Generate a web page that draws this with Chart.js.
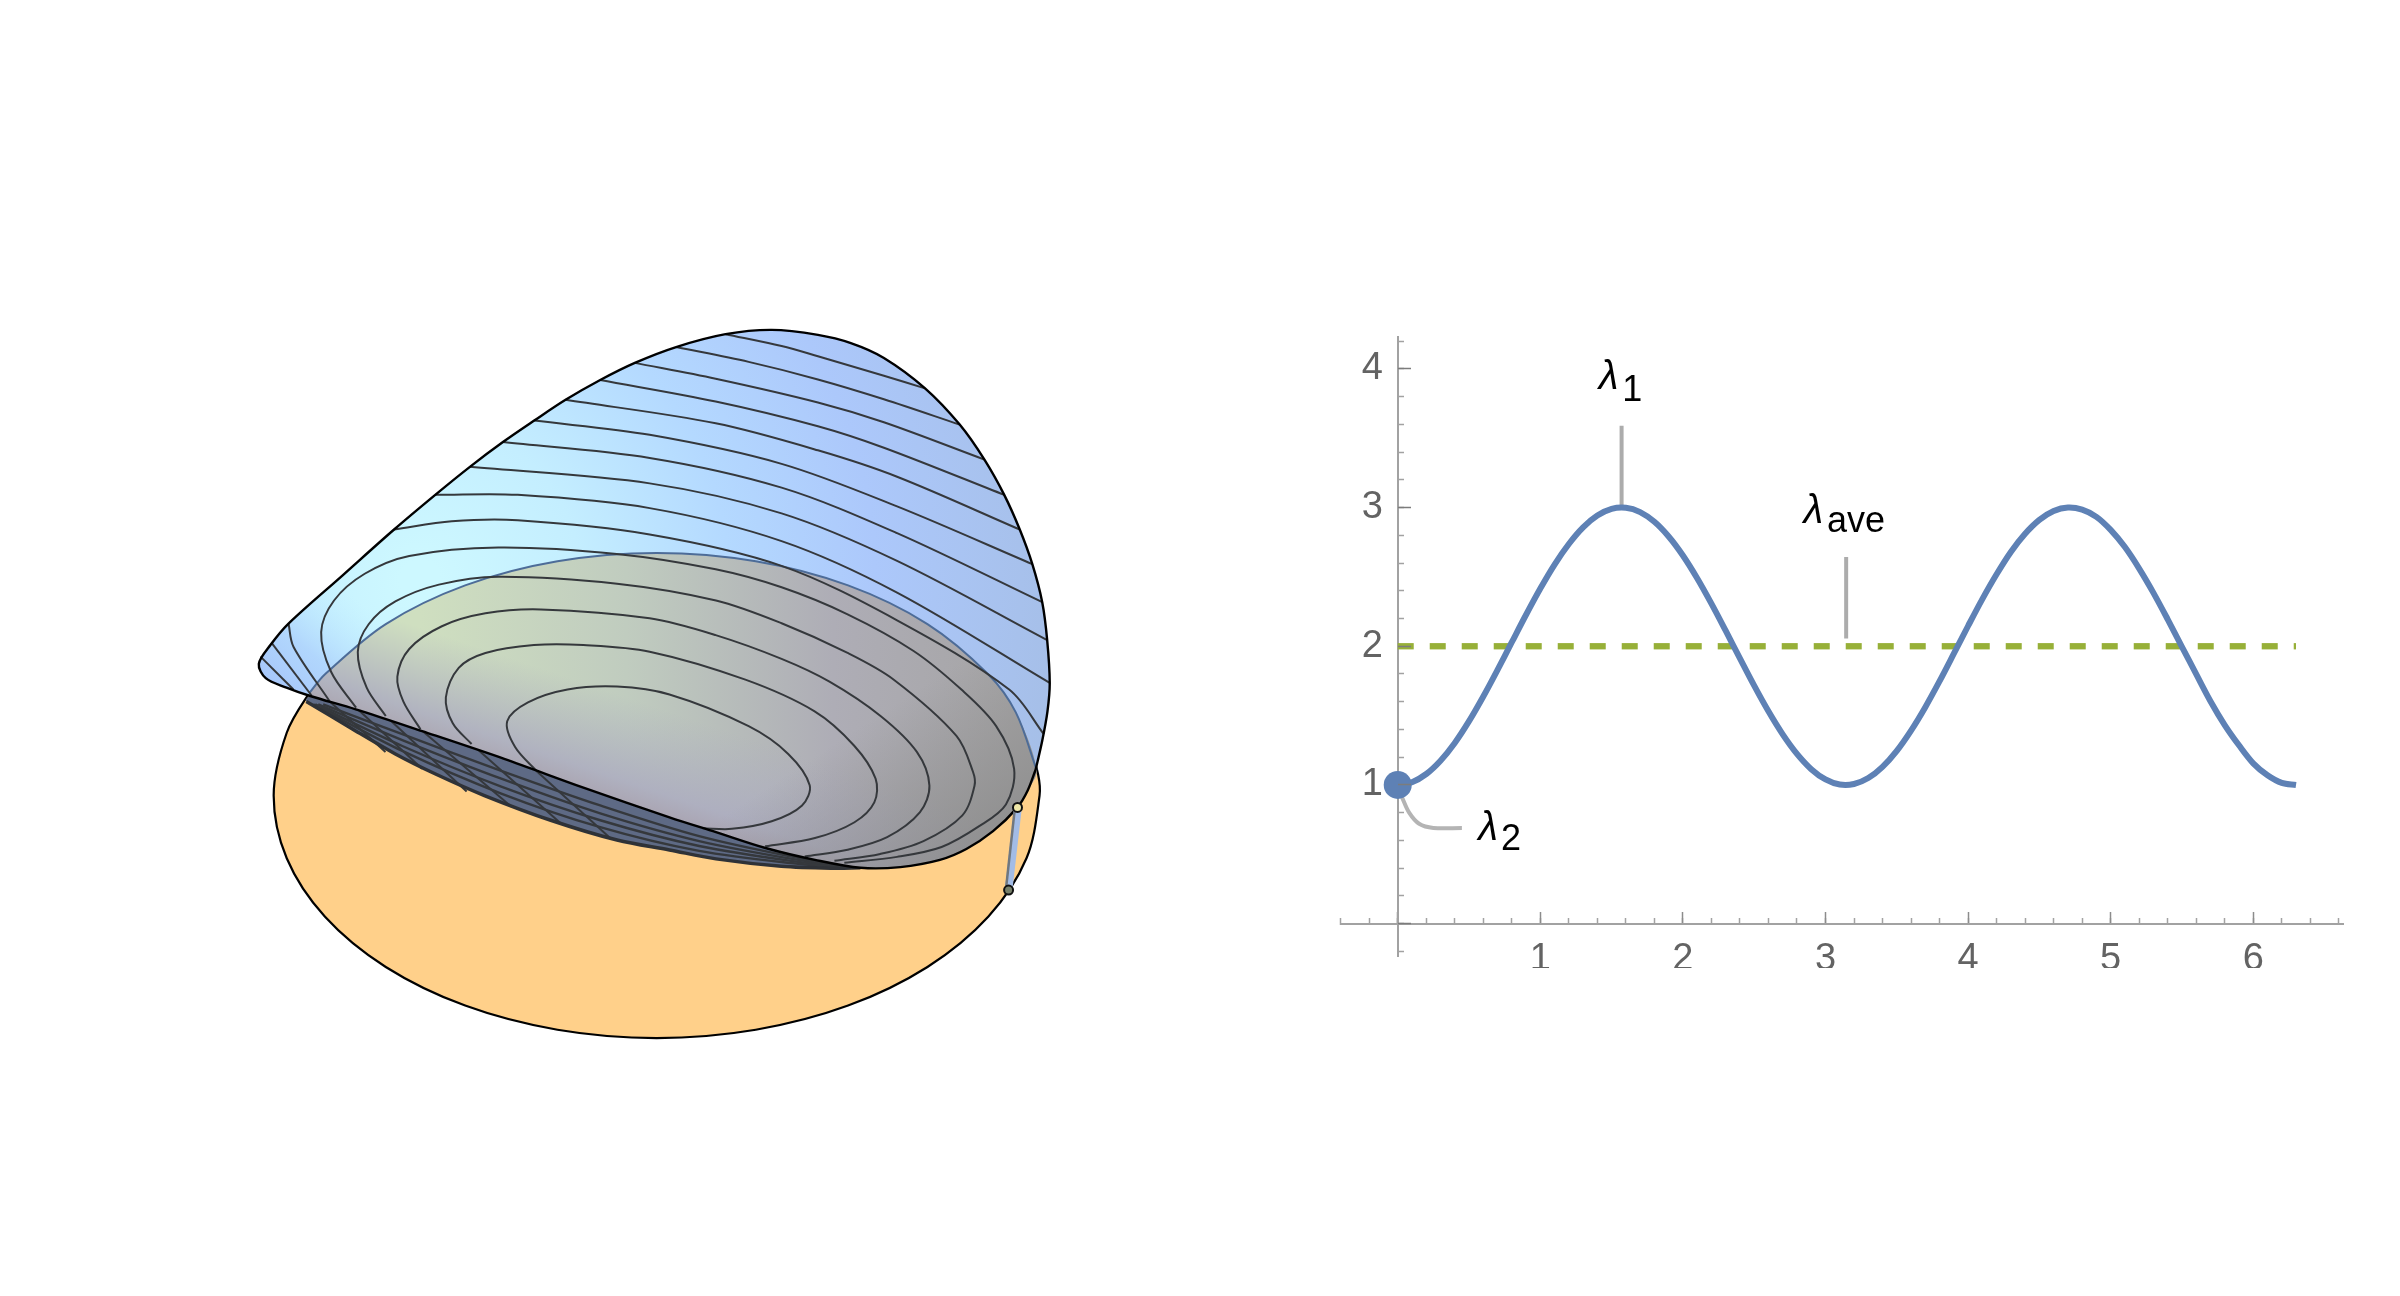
<!DOCTYPE html>
<html>
<head>
<meta charset="utf-8">
<title>Surface and eigenvalues</title>
<script src="https://cdn.jsdelivr.net/npm/chart.js@4/dist/chart.umd.min.js"></script>
<style>
    html, body { margin: 0; background: #fff; width: 2400px; height: 1296px; overflow: hidden; }
    #surfaceChart { position: absolute; left: 0; top: 0; }
    /* the tick numbers are cut off at the bottom in the original */
    #lambdaWrap { position: absolute; left: 1240px; top: 300px; width: 1160px; height: 668px; overflow: hidden; }
</style>
</head>
<body>
<canvas id="surfaceChart" width="1240" height="1296"></canvas>
<div id="lambdaWrap"><canvas id="lambdaChart" width="1160" height="760"></canvas></div>
<script>
// ---- right panel values ----
const curveX = [0, .1, .2, .3, .4, .5, .6, .7, .8, .9, 1, 1.1, 1.2, 1.3, 1.4, 1.5, 1.6, 1.7, 1.8, 1.9, 2, 2.1, 2.2, 2.3, 2.4, 2.5, 2.6, 2.7, 2.8, 2.9, 3, 3.1, 3.2, 3.3, 3.4, 3.5, 3.6, 3.7, 3.8, 3.9, 4, 4.1, 4.2, 4.3, 4.4, 4.5, 4.6, 4.7, 4.8, 4.9, 5, 5.1, 5.2, 5.3, 5.4, 5.5, 5.6, 5.7, 5.8, 5.9, 6, 6.1, 6.2, 6.3];
const curveY = [1, 1.02, 1.079, 1.175, 1.303, 1.46, 1.638, 1.83, 2.029, 2.227, 2.416, 2.589, 2.737, 2.857, 2.942, 2.99, 2.998, 2.967, 2.897, 2.791, 2.654, 2.49, 2.307, 2.112, 1.913, 1.716, 1.531, 1.365, 1.224, 1.114, 1.04, 1.003, 1.007, 1.05, 1.131, 1.246, 1.392, 1.561, 1.748, 1.946, 2.146, 2.34, 2.519, 2.68, 2.811, 2.911, 2.975, 3, 2.985, 2.933, 2.839, 2.715, 2.56, 2.385, 2.194, 1.996, 1.799, 1.604, 1.432, 1.286, 1.156, 1.07, 1.015, 1];
const averageX = [0, 6.3];
const averageY = [2, 2];
const dotX = [0];
const dotY = [1];
const leader1X = [1.57, 1.57];
const leader1Y = [3, 3.59];
const leaderAveX = [3.145, 3.145];
const leaderAveY = [2.055, 2.644];
const leader2X = [.03, .08, .15, .25, .45];
const leader2Y = [.91, .8, .72, .69, .69];
const labelNames = ['λ', 'λ', 'λ'];
const labelX = [1.41, 2.845, .565];
const labelY = [3.855, 2.885, .605];
const subNames = ['1', 'ave', '2'];
const subX = [1.575, 3.01, .725];
const subY = [3.768, 2.825, .533];

// ---- left panel outlines (no value axes there) ----
const discEdge = [[321.9, 674.5], [306, 693.5], [283.2, 733.6], [270, 797], [283.2, 860.4], [321.9, 919.5], [383.3, 970.2], [463.5, 1009.2], [556.8, 1033.6], [657, 1042], [757.2, 1033.6], [850.5, 1009.2], [930.7, 970.2], [992.1, 919.5], [1030.8, 860.4], [1044, 797], [1042.5, 775.6], [1030.8, 733.6]];
const lidEdge = [[306, 693.5], [321.9, 674.5], [383.3, 623.8], [463.5, 584.8], [556.8, 560.4], [657, 552], [757.2, 560.4], [850.5, 584.8], [930.7, 623.8], [992.1, 674.5], [1020, 713], [1041, 771]];
const surfaceTop = [[266.7, 645], [285, 623.3], [340, 574.3], [391.7, 528.3], [433.3, 493.3], [468.3, 465], [501.7, 440], [533.3, 418.3], [565, 397.3], [600, 377.3], [635, 360], [676.7, 344], [726.7, 331], [773.3, 326.7], [820, 331.7], [853.3, 340], [886.7, 355], [928.3, 385.7], [963.3, 422.3], [988.3, 457.7], [1008.3, 493.3], [1024, 528.3], [1036.7, 563.3], [1046.7, 601.7], [1051.7, 640], [1054.3, 683.3], [1052, 712], [1046.7, 741.7]];
const rightRim = [[1040, 771], [1032, 792], [1021.7, 809], [997, 833], [970, 851], [943.3, 862], [903.3, 869.3], [863, 870]];
const frontLine = [[817, 862], [767, 850], [717, 834], [670, 819], [583, 789], [503, 760], [420, 732], [353, 710], [307, 696.5]];
const tipCurve = [[283, 688], [262, 678.5], [255, 664]];
const underEdge = [[303, 702], [350, 730], [393, 755], [433, 775], [483, 797], [550, 822], [617, 842], [670, 852], [717, 861], [783, 868.5], [837, 870.5], [863, 870]];

// contour lines on the upper surface
const contourA = [[726.7, 331], [783.3, 343], [820, 353.3], [886.7, 373], [928.3, 385.7]];
const contourB = [[676.7, 344], [750, 359], [820, 376.7], [886.7, 396.7], [963.3, 422.3]];
const contourC = [[635, 360], [716.7, 376], [820, 400], [886.7, 420], [988.3, 457.7]];
const contourD = [[600, 377.3], [716.7, 399], [820, 424], [886.7, 445.7], [1008.3, 493.3]];
const contourE = [[565, 397.3], [716.7, 421], [820, 448.3], [900, 475], [1024, 528.3]];
const contourF = [[533.3, 418.3], [650, 432.7], [783.3, 462], [900, 505], [1036.7, 563.3]];
const contourG = [[501.7, 440], [650, 456], [783.3, 486], [900, 532], [1046.7, 601.7]];
const contourH = [[468.3, 465], [650, 481.7], [783.3, 512], [900, 560], [1051.7, 640]];
const contourI = [[433.3, 493.3], [516.7, 493.3], [650, 506.7], [783.3, 540], [900, 592], [1054.3, 683.3]];
const contourJ = [[391.7, 528.3], [450, 520], [516.7, 519], [650, 533.3], [783.3, 565], [900, 620], [1013.3, 690], [1048.3, 735]];
const contourK = [[353.3, 708.3], [328, 672], [318, 632], [331, 600], [362, 573], [407, 555], [497, 546.5], [616.7, 553], [716.7, 568.5], [783.3, 586.7], [850, 614], [916.7, 651], [965, 690], [1000, 726.7], [1018.3, 770], [1010, 806], [983, 828], [945, 849], [900, 859], [846.7, 865]];
const contourL = [[383.3, 716.7], [364, 688], [355, 652], [366, 624], [393, 601], [437, 584], [497, 576], [617, 583], [717, 600], [783.3, 623], [850, 653], [896.7, 680], [960, 736.7], [976.7, 773], [978.3, 787], [966, 817], [926.7, 843], [883, 856], [836.7, 863]];
const contourM = [[418.3, 730], [401, 702], [395, 677], [407, 649], [440, 626], [484, 613], [540, 609], [650, 618], [716.7, 635], [783.3, 659], [831.7, 682], [883.3, 716.7], [920, 753], [932.7, 787], [923, 814], [890, 839], [850, 851.7], [806.7, 858.5]];
const contourN = [[470, 745], [451, 724], [444, 698], [457, 668], [484, 653], [533, 645], [583, 645], [650, 651.7], [746.7, 680], [816.7, 712], [856.7, 746.7], [878.3, 780], [877, 804], [857, 824], [817, 840], [766.7, 848.3]];
const contourO = [[536.7, 773.3], [514, 748], [506, 722], [527, 703], [567, 690], [617, 687], [670, 695], [750, 727], [790, 755], [811.7, 786.7], [804, 807], [773.3, 823], [733, 830.7], [703.3, 830]];
const tipContourA = [[256.7, 656.7], [290, 690]];
const tipContourB = [[268.3, 643.3], [308.3, 696]];
const tipContourC = [[285, 623.3], [290, 646.7], [326.7, 702]];
// lines showing through on the dark underside
const underCrossA = [[326.7, 702], [383, 753]];
const underCrossB = [[353.3, 708.3], [420, 770]];
const underCrossC = [[383.3, 716.7], [465, 793]];
const underCrossD = [[418.3, 730], [510, 808]];
const underCrossE = [[470, 745], [560, 825]];
const underCrossF = [[536.7, 773.3], [610, 840]];
const underFanA = [[320, 705], [400, 735], [500, 772], [600, 807], [700, 838], [800, 860], [855, 869]];
const underFanB = [[315, 705], [400, 741], [500, 780], [600, 815], [700, 843], [800, 862], [855, 869]];
const underFanC = [[312, 705], [400, 747], [500, 788], [600, 822], [700, 848], [800, 864], [855, 869.5]];
const underFanD = [[310, 705], [400, 752], [500, 795], [600, 829], [700, 853], [800, 866], [855, 870]];
const rodCore = [[1022, 812], [1013, 890]];
const rodShade = [[1018.8, 812], [1010.2, 890]];
const rodEnds = [[1021.7, 809], [1012.7, 892.5]];

function pts(pairs) {
    return pairs.map(function (p) { return { x: p[0], y: p[1] }; });
}
function zipXY(xs, ys) {
    return xs.map(function (x, i) { return { x: x, y: ys[i] }; });
}

// ---- left panel: surface ----
var surfaceCanvas = document.getElementById('surfaceChart');
var cx = surfaceCanvas.getContext('2d');

var blueFill = cx.createRadialGradient(420, 580, 20, 420, 580, 660);
blueFill.addColorStop(0, '#cdf8ff');
blueFill.addColorStop(0.22, '#c4eeff');
blueFill.addColorStop(0.45, '#b4d9ff');
blueFill.addColorStop(0.68, '#acc8fb');
blueFill.addColorStop(1, '#a5bee6');

var tipFill = cx.createLinearGradient(265, 690, 345, 590);
tipFill.addColorStop(0, 'rgba(165,196,250,1)');
tipFill.addColorStop(0.45, 'rgba(172,208,252,0.8)');
tipFill.addColorStop(1, 'rgba(190,235,255,0)');

var lidFill = cx.createLinearGradient(420, 0, 1010, 0);
lidFill.addColorStop(0, '#cfdfc0');
lidFill.addColorStop(0.35, '#c0ccbf');
lidFill.addColorStop(0.7, '#aeadb6');
lidFill.addColorStop(1, '#a6a5a6');

// shading runs across the front edge of the lid
var lidShade = cx.createLinearGradient(564, 570, 500, 760);
lidShade.addColorStop(0, 'rgba(172,172,192,0)');
lidShade.addColorStop(0.5, 'rgba(172,172,192,0)');
lidShade.addColorStop(0.9, 'rgba(172,172,192,0.85)');
lidShade.addColorStop(1, 'rgba(168,162,178,0.9)');

var lidCorner = cx.createLinearGradient(840, 740, 925, 870);
lidCorner.addColorStop(0, 'rgba(140,140,140,0)');
lidCorner.addColorStop(1, 'rgba(140,140,140,0.8)');

function filled(pairs, color) {
    return { data: pts(pairs), showLine: true, fill: 'shape', backgroundColor: color, borderWidth: 0, pointRadius: 0, tension: 0.33, clip: false };
}
function stroked(pairs, color, width, tension) {
    return { data: pts(pairs), showLine: true, fill: false, borderColor: color, borderWidth: width, pointRadius: 0, tension: tension === undefined ? 0.33 : tension, clip: false };
}

var contourColor = '#35383c';
var surfaceShape = rightRim.concat(frontLine, tipCurve, surfaceTop);
var lidShape = lidEdge.concat(rightRim.slice(1), frontLine);
// painter's order, first entry is the bottom layer
var layers = [
    filled(discEdge.slice(1, 17).concat(lidEdge.slice().reverse()), '#ffd08a'),
    stroked(discEdge, '#000', 2.2),
    filled(frontLine.concat(underEdge), '#5e6a85'),
    stroked(underCrossA, contourColor, 2, 0),
    stroked(underCrossB, contourColor, 2, 0),
    stroked(underCrossC, contourColor, 2, 0),
    stroked(underCrossD, contourColor, 2, 0),
    stroked(underCrossE, contourColor, 2, 0),
    stroked(underCrossF, contourColor, 2, 0),
    stroked(underFanA, contourColor, 2.4),
    stroked(underFanB, contourColor, 2.4),
    stroked(underFanC, contourColor, 2.4),
    stroked(underFanD, contourColor, 2.4),
    stroked(underEdge, '#2f3237', 3.5),
    filled(surfaceShape, blueFill),
    filled(surfaceShape, tipFill),
    filled(lidShape, lidFill),
    filled(lidShape, lidShade),
    filled(lidShape, lidCorner),
    stroked(lidEdge, '#4d6c98', 2),
    stroked(contourA, contourColor, 2),
    stroked(contourB, contourColor, 2),
    stroked(contourC, contourColor, 2),
    stroked(contourD, contourColor, 2),
    stroked(contourE, contourColor, 2),
    stroked(contourF, contourColor, 2),
    stroked(contourG, contourColor, 2),
    stroked(contourH, contourColor, 2),
    stroked(contourI, contourColor, 2),
    stroked(contourJ, contourColor, 2),
    stroked(contourK, contourColor, 2),
    stroked(contourL, contourColor, 2),
    stroked(contourM, contourColor, 2),
    stroked(contourN, contourColor, 2),
    stroked(contourO, contourColor, 2),
    stroked(tipContourA, contourColor, 2, 0),
    stroked(tipContourB, contourColor, 2, 0),
    stroked(tipContourC, contourColor, 2),
    stroked(surfaceShape.concat([rightRim[0]]), '#000', 2.4),
    stroked(rodCore, '#a3bce6', 7.5, 0),
    stroked(rodShade, '#70777f', 2.5, 0),
    { data: pts(rodEnds), showLine: false, pointRadius: 4.5, pointBackgroundColor: ['#efe7a8', '#77806a'], pointBorderColor: '#111', pointBorderWidth: 2, clip: false }
];
layers.forEach(function (d, i) { d.order = layers.length - i; });

var surfaceChart = new Chart(cx, {
    type: 'scatter',
    data: { datasets: layers },
    options: {
        responsive: false,
        animation: false,
        events: [],
        plugins: { legend: { display: false }, tooltip: { enabled: false } },
        scales: {
            x: { type: 'linear', display: false, min: 0, max: 1240 },
            y: { type: 'linear', display: false, min: 0, max: 1296, reverse: true }
        }
    }
});

// ---- right panel: lambda curves ----
var axisGray = '#a2a2a2';
var tickFont = { family: '"Liberation Sans"', size: 38 };
var xRange = { min: -0.4, max: 6.633 };
var yRange = { min: -0.238, max: 4.233 };

// draws the lambda labels at data positions
var lambdaLabels = {
    id: 'lambdaLabels',
    afterDatasetsDraw: function (chart) {
        var c = chart.ctx, sx = chart.scales.x, sy = chart.scales.y;
        c.save();
        c.fillStyle = '#000';
        c.textBaseline = 'alphabetic';
        labelNames.forEach(function (name, i) {
            c.font = 'italic 40px "Liberation Sans"';
            c.fillText(name, sx.getPixelForValue(labelX[i]), sy.getPixelForValue(labelY[i]));
            c.font = '36px "Liberation Sans"';
            c.fillText(subNames[i], sx.getPixelForValue(subX[i]), sy.getPixelForValue(subY[i]));
        });
        c.restore();
    }
};

var lambdaChart = new Chart(document.getElementById('lambdaChart'), {
    type: 'scatter',
    data: {
        datasets: [
            { data: zipXY(dotX, dotY), pointRadius: 14, pointBackgroundColor: '#5e81b5', pointBorderWidth: 0, clip: false },
            { data: zipXY(curveX, curveY), showLine: true, borderColor: '#5e81b5', borderWidth: 6, pointRadius: 0, tension: 0.33, clip: false },
            { data: zipXY(averageX, averageY), showLine: true, borderColor: '#97b038', borderWidth: 6.3, borderDash: [16, 16], pointRadius: 0, clip: false },
            { data: zipXY(leader1X, leader1Y), showLine: true, borderColor: '#acacac', borderWidth: 4, pointRadius: 0 },
            { data: zipXY(leaderAveX, leaderAveY), showLine: true, borderColor: '#acacac', borderWidth: 4, pointRadius: 0 },
            { data: zipXY(leader2X, leader2Y), showLine: true, borderColor: '#b4b4b4', borderWidth: 4, pointRadius: 0, tension: 0.33 }
        ]
    },
    plugins: [lambdaLabels],
    options: {
        responsive: false,
        animation: false,
        events: [],
        layout: { padding: { left: 100.7, right: 56.5, top: 36.5, bottom: 103.3 } },
        plugins: { legend: { display: false }, tooltip: { enabled: false } },
        scales: {
            x: {
                type: 'linear', min: xRange.min, max: xRange.max, position: { y: 0 },
                border: { color: axisGray, width: 2 },
                grid: { drawOnChartArea: false, tickLength: -7, tickColor: axisGray, tickWidth: 1.5 },
                ticks: { display: false, stepSize: 0.2, autoSkip: false, includeBounds: false }
            },
            xMajor: {
                type: 'linear', axis: 'x', min: xRange.min, max: xRange.max, position: { y: 0 },
                border: { display: false },
                grid: { drawOnChartArea: false, tickLength: -12, tickColor: '#8c8c8c', tickWidth: 1.5 },
                ticks: {
                    stepSize: 1, autoSkip: false, includeBounds: false, maxRotation: 0,
                    font: tickFont, color: '#636363', padding: 25,
                    callback: function (v) { return v > 0 ? String(v) : ''; }
                }
            },
            y: {
                type: 'linear', min: yRange.min, max: yRange.max, position: { x: 0 },
                border: { color: axisGray, width: 2 },
                grid: { drawOnChartArea: false, tickLength: -7, tickColor: axisGray, tickWidth: 1.5 },
                ticks: { display: false, stepSize: 0.2, autoSkip: false, includeBounds: false }
            },
            yMajor: {
                type: 'linear', axis: 'y', min: yRange.min, max: yRange.max, position: { x: 0 },
                border: { display: false },
                grid: { drawOnChartArea: false, tickLength: -13, tickColor: '#7c7c7c', tickWidth: 1.5, z: 1 },
                ticks: { display: false, stepSize: 1, autoSkip: false, includeBounds: false }
            },
            // numbers only, sits a little left of the y axis
            yNumbers: {
                type: 'linear', axis: 'y', min: yRange.min, max: yRange.max, position: { x: -0.105 },
                border: { display: false },
                grid: { display: false, drawTicks: false },
                ticks: {
                    stepSize: 1, autoSkip: false, includeBounds: false,
                    font: tickFont, color: '#636363', padding: 0,
                    callback: function (v) { return v > 0 ? String(v) : ''; }
                }
            }
        }
    }
});

// tick labels eat into the plot area, so correct the padding once to land on the wanted box
var wanted = { left: 100.7, right: 1103.5, top: 36.5, bottom: 656.7 };
var area = lambdaChart.chartArea;
var pad = lambdaChart.options.layout.padding;
pad.left += wanted.left - area.left;
pad.top += wanted.top - area.top;
pad.right += area.right - wanted.right;
pad.bottom += area.bottom - wanted.bottom;
lambdaChart.update();
</script>
</body>
</html>
